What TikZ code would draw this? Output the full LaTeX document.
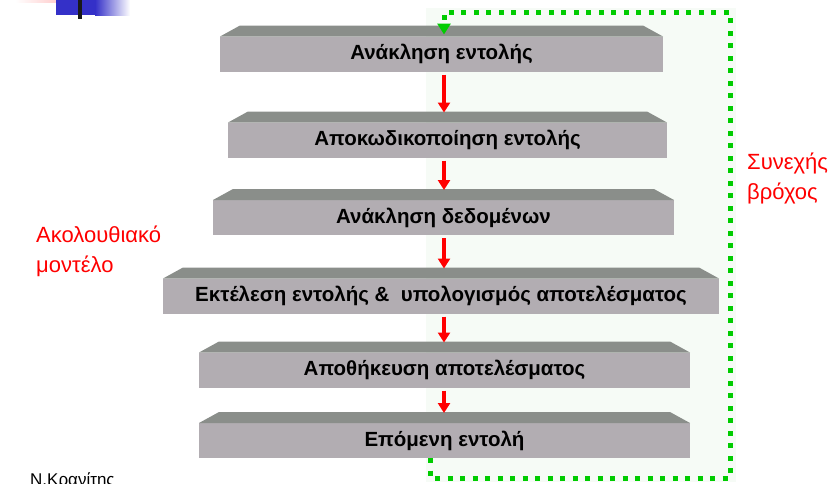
\documentclass[tikz,border=0pt]{standalone}
\usepackage{fontspec}
\setmainfont{Liberation Sans}
\usetikzlibrary{arrows.meta}
\usetikzlibrary{calc}
\tikzset{>=latex}
\definecolor{slabcol}{RGB}{178,173,178}
\definecolor{bevelcol}{RGB}{138,142,138}
\definecolor{loopcol}{RGB}{0,204,0}
\definecolor{tintcol}{RGB}{246,251,246}
\definecolor{barblue}{RGB}{52,48,200}
\tikzset{
  slab/.style={fill=slabcol,inner sep=0,outer sep=0,minimum height=35pt,
               font=\bfseries\fontsize{20.5}{22}\selectfont},
  step arrow/.style={red,line width=4pt,-{Triangle[width=12pt,length=10pt]}},
  loop line/.style={loopcol,line width=5pt,dash pattern=on 5pt off 7.5pt},
  side note/.style={red,font=\fontsize{22}{26}\selectfont,anchor=base west,inner sep=0}
}
\newcommand\slab[4]{% name, centre, width, text
  \node[slab,minimum width=#3pt] (#1) at (#2) {#4};
  \fill[bevelcol] (#1.north west) -- ++(20,-11) -- ($(#1.north east)+(-20,-11)$)
    -- (#1.north east) -- cycle;
}

\begin{document}
\begin{tikzpicture}[x=1pt,y=-1pt]
  \useasboundingbox (0,0) rectangle (833,483);

  % BACKGROUND
  \fill[tintcol] (426,8) rectangle (736,482);
  \shade[left color=white,right color=pink] (15,0) rectangle (70,2);
  \fill[barblue] (56,0) rectangle (95,15);
  \shade[left color=barblue,right color=white] (95,0) rectangle (130,15);
  \fill[black!90] (78,0) rectangle (82,19);

  % STEPS
  \slab{fetch}{441.5,54}{443}{Ανάκληση εντολής}
  \slab{decode}{447.5,140}{439}{Αποκωδικοποίηση εντολής}
  \slab{operand}{443.5,217.5}{461}{Ανάκληση δεδομένων}
  \slab{exec}{441,296}{556}{Εκτέλεση εντολής \&\ \ υπολογισμός αποτελέσματος}
  \slab{store}{444.5,370}{491}{Αποθήκευση αποτελέσματος}
  \slab{next}{444.5,440.5}{491}{Επόμενη εντολή}

  % ARROWS
  \coordinate (axis) at (444,0);
  \foreach \a/\b in {fetch/decode,decode/operand,operand/exec,exec/store,store/next}
    \draw[step arrow] ($(axis |- \a.south)+(0,3)$) -- ($(axis |- \b.north)+(0,-10)$);

  % LOOP
  \coordinate (tail) at (430,0);
  \coordinate (loopSW) at (430,478);
  \coordinate (loopNE) at (730,12);
  \draw[loop line,-{Triangle[width=13pt,length=11pt]}] (tail |- next.south) -- (loopSW)
    -| (loopNE) -| ($(axis |- fetch.north)+(0,-2)$);

  % LABELS
  \node[side note] (seqA) at (36,242) {Ακολουθιακό};
  \node[side note] (seqB) at ($(seqA.base west)+(0,30)$) {μοντέλο};
  \node[side note] (cycA) at (747,169) {Συνεχής};
  \node[side note] (cycB) at ($(cycA.base west)+(0,30)$) {βρόχος};
  \node[anchor=base west,inner sep=0,font=\fontsize{17}{19}\selectfont] (author) at (30,485) {Ν.Κρανίτης};
\end{tikzpicture}
\end{document}
